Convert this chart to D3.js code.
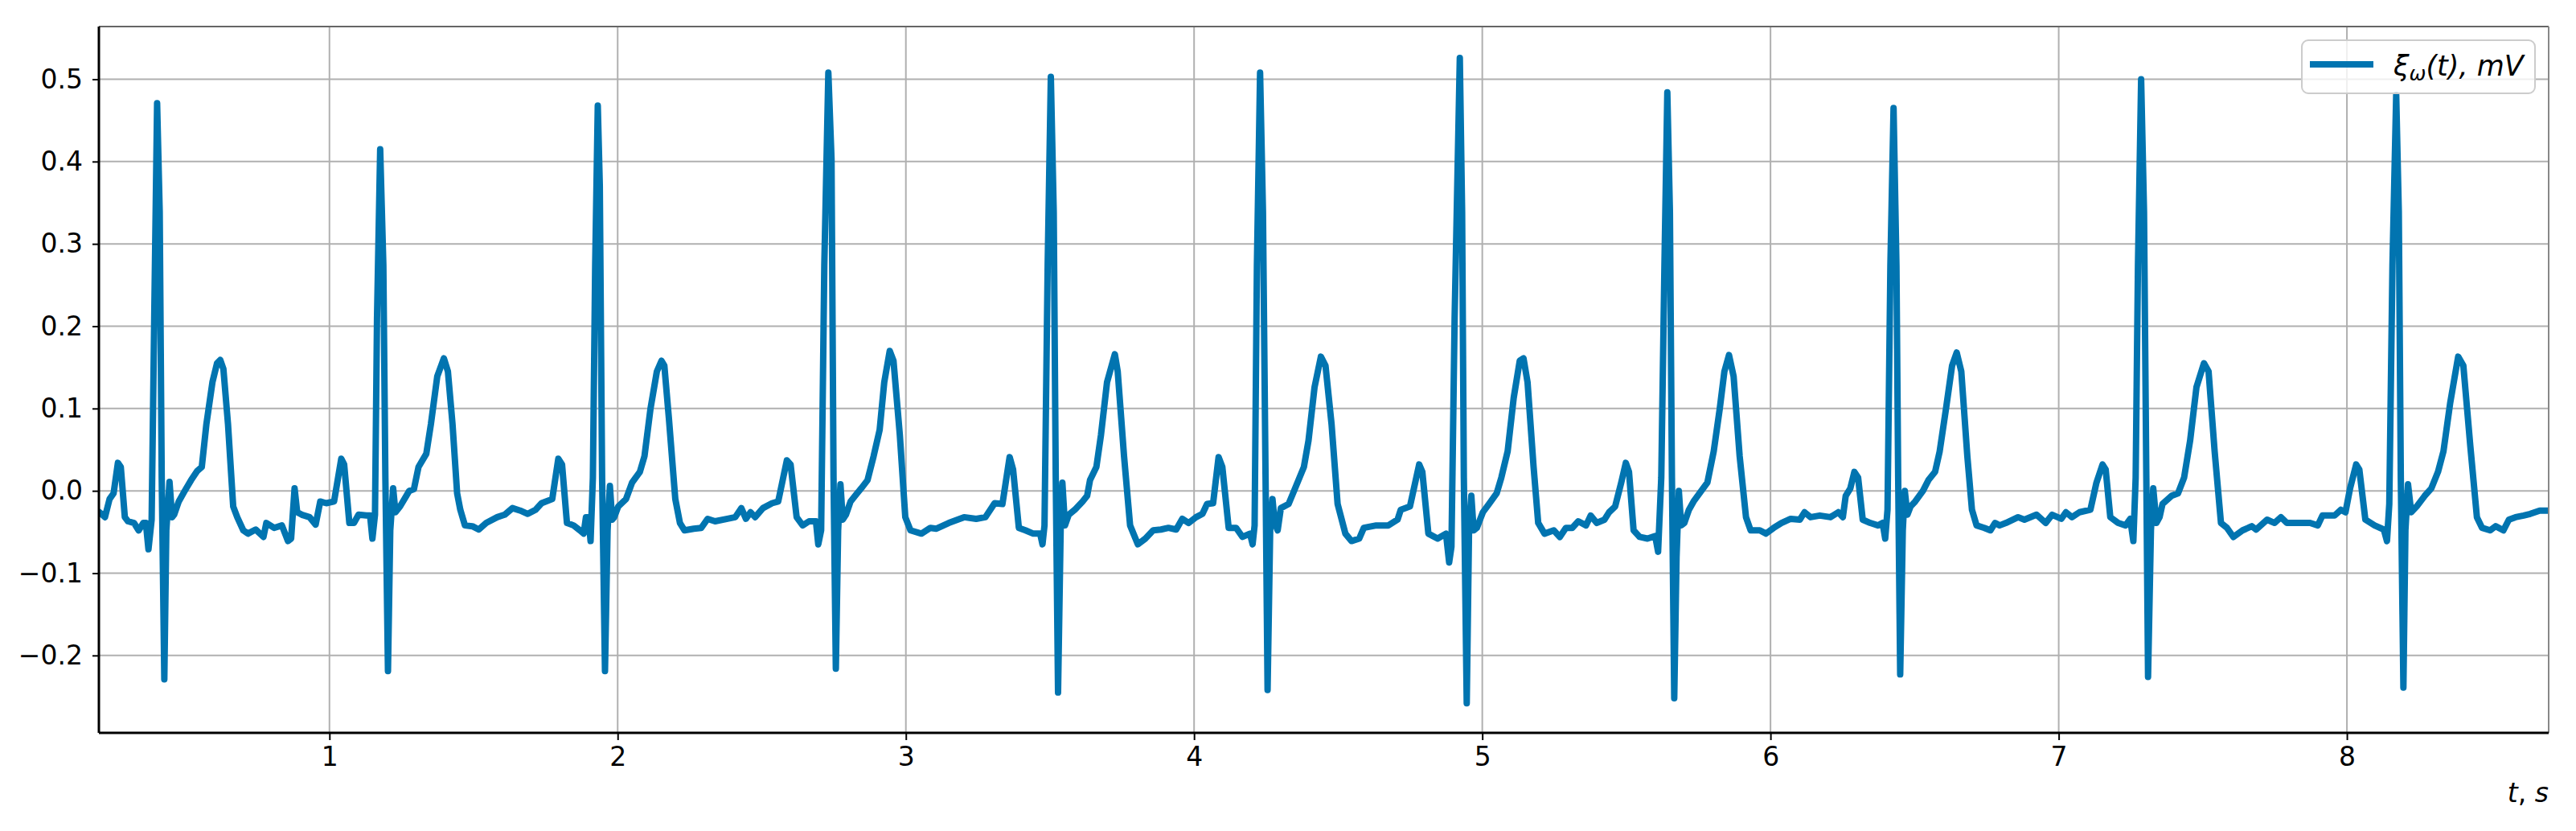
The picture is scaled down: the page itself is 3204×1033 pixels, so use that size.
<!DOCTYPE html>
<html>
<head>
<meta charset="utf-8">
<script src="https://cdn.jsdelivr.net/npm/d3@7"></script>
<style>
  html, body { margin: 0; padding: 0; background: #ffffff; }
  svg { display: block; }
  text { font-family: "DejaVu Sans", sans-serif; }
</style>
</head>
<body>
<svg id="chart" width="3204" height="1033"></svg>
<script>
// ---- data ----
const seriesName = "ξω(t), mV";
const xAxisLabel = "t, s";
const xTickValues = [1, 2, 3, 4, 5, 6, 7, 8];
const yTickValues = [-0.2, -0.1, 0.0, 0.1, 0.2, 0.3, 0.4, 0.5];
const xDomain = [0.2, 8.7];
const yDomain = [-0.294, 0.564];

// time in seconds
const timeS = [
  0.202,0.221,0.237,0.251,0.266,0.276,0.290,0.301,0.322,0.338,0.354,0.363,0.372,0.383,0.392,0.402,0.411,0.418,0.427,0.434,
  0.445,0.454,0.461,0.477,0.498,0.520,0.541,0.557,0.573,0.594,0.610,0.621,0.632,0.648,0.666,0.680,0.701,0.717,0.744,0.771,
  0.781,0.808,0.835,0.856,0.867,0.879,0.888,0.904,0.931,0.952,0.968,0.989,1.016,1.041,1.051,1.069,1.085,1.101,1.128,1.141,
  1.149,1.158,1.165,1.176,1.187,1.194,1.203,1.211,1.221,1.229,1.245,1.277,1.293,1.309,1.336,1.352,1.374,1.397,1.411,1.427,
  1.443,1.454,1.470,1.496,1.518,1.544,1.582,1.608,1.635,1.662,1.688,1.715,1.736,
  1.773,1.794,1.807,1.824,1.847,1.869,1.882,1.890,1.899,1.906,1.914,1.922,1.931,1.938,1.946,1.956,1.965,1.973,1.981,1.988,
  2.002,2.029,2.050,2.077,2.093,2.114,2.136,2.152,2.162,2.178,2.200,2.216,2.232,2.264,2.290,2.312,2.338,2.381,2.408,2.429,
  2.445,2.461,2.477,2.504,2.536,2.557,2.587,2.600,2.621,2.642,2.664,2.688,2.696,2.706,2.717,2.731,2.742,2.749,2.757,2.765,
  2.773,2.781,2.792,2.808,2.824,2.845,2.867,2.888,2.909,2.925,2.944,2.957,2.979,2.998,3.016,3.054,3.085,3.106,3.149,
  3.202,3.244,3.276,3.308,3.335,3.360,3.372,3.392,3.415,3.442,3.466,3.474,3.481,3.492,3.503,3.513,3.520,3.528,3.537,3.543,
  3.552,3.565,3.586,3.613,3.629,3.639,3.661,3.677,3.698,3.725,3.735,3.757,3.778,3.805,3.831,3.858,3.885,3.911,3.938,3.959,
  3.981,4.007,4.029,4.045,4.066,4.085,4.098,4.120,4.146,4.168,4.194,4.203,4.210,4.218,4.229,4.239,4.248,4.255,4.264,4.272,
  4.280,4.290,4.301,4.328,4.354,4.381,4.397,4.418,4.440,4.456,4.477,4.498,4.525,4.546,4.573,4.589,4.632,4.674,4.706,4.717,
  4.749,4.781,4.792,4.813,4.845,
  4.874,4.885,4.893,4.904,4.922,4.930,4.936,4.946,4.954,4.962,4.970,4.981,5.002,5.023,5.050,5.066,5.088,5.109,5.130,5.143,
  5.157,5.178,5.194,5.216,5.248,5.269,5.290,5.312,5.333,5.360,5.376,5.397,5.424,5.440,5.461,5.482,5.498,5.509,5.525,5.546,
  5.573,5.600,5.610,5.621,5.632,5.642,5.651,5.658,5.666,5.674,5.682,5.690,5.701,5.717,5.733,5.760,5.781,5.803,5.824,5.840,
  5.856,5.872,5.893,5.915,5.931,5.963,5.984,6.011,6.038,6.070,6.102,6.118,6.139,6.171,6.208,6.235,6.251,6.261,6.277,6.291,
  6.304,6.320,6.346,6.373,6.389,6.398,6.406,6.416,6.427,6.437,6.443,6.450,6.459,6.466,6.475,6.486,6.502,6.529,6.548,
  6.571,6.587,6.609,6.630,6.646,6.662,6.683,6.699,6.715,6.742,6.763,6.779,6.795,6.817,6.859,6.881,6.923,6.955,6.977,7.009,
  7.025,7.046,7.072,7.110,7.131,7.152,7.163,7.179,7.206,7.232,7.248,7.259,7.267,7.275,7.286,7.296,7.304,7.310,7.320,7.328,
  7.339,7.350,7.360,7.392,7.414,7.435,7.456,7.478,7.504,7.520,7.541,7.563,7.584,7.606,7.638,7.670,7.685,7.723,7.749,7.771,
  7.792,7.829,7.872,7.899,7.915,7.957,7.979,7.995,8.011,8.032,8.043,8.064,8.096,8.128,8.139,8.147,8.158,8.171,8.180,8.187,
  8.196,8.203,8.212,8.223,8.242,8.270,8.293,8.316,8.335,8.358,8.386,8.404,8.428,8.451,8.469,8.497,8.516,8.543,8.562,8.585,
  8.613,8.636,8.669,8.697
];

// voltage in mV
const voltageMV = [
  -0.026,-0.032,-0.010,-0.003,0.034,0.029,-0.032,-0.037,-0.039,-0.048,-0.039,-0.039,-0.071,-0.035,0.210,0.471,0.339,0.016,-0.229,-0.048,
  0.011,-0.032,-0.029,-0.013,0.000,0.013,0.024,0.029,0.081,0.132,0.155,0.159,0.148,0.081,-0.019,-0.032,-0.048,-0.052,-0.047,-0.056,
  -0.039,-0.045,-0.042,-0.061,-0.058,0.003,-0.026,-0.029,-0.032,-0.041,-0.013,-0.015,-0.013,0.039,0.032,-0.039,-0.039,-0.029,-0.030,-0.030,
  -0.058,-0.029,0.210,0.415,0.274,0.016,-0.219,-0.048,0.003,-0.026,-0.019,0.000,0.002,0.029,0.045,0.081,0.139,0.161,0.145,0.081,
  -0.003,-0.023,-0.042,-0.043,-0.047,-0.039,-0.032,-0.029,-0.021,-0.024,-0.028,-0.023,-0.015,
  -0.010,0.039,0.032,-0.039,-0.042,-0.048,-0.052,-0.032,-0.032,-0.061,0.016,0.274,0.468,0.371,0.016,-0.219,-0.048,0.006,-0.035,-0.032,
  -0.019,-0.010,0.010,0.023,0.042,0.100,0.145,0.158,0.152,0.087,-0.010,-0.039,-0.048,-0.046,-0.045,-0.034,-0.037,-0.034,-0.032,-0.021,
  -0.034,-0.026,-0.032,-0.021,-0.015,-0.013,0.037,0.032,-0.032,-0.042,-0.037,-0.037,-0.065,-0.048,0.274,0.508,0.403,0.016,-0.216,-0.048,
  0.008,-0.035,-0.029,-0.013,-0.006,0.003,0.013,0.042,0.074,0.132,0.170,0.158,0.068,-0.032,-0.048,-0.052,-0.045,-0.046,-0.039,
  -0.032,-0.034,-0.032,-0.015,-0.016,0.041,0.026,-0.045,-0.048,-0.052,-0.052,-0.065,-0.042,0.274,0.503,0.339,0.016,-0.245,-0.048,0.010,
  -0.042,-0.029,-0.023,-0.013,-0.006,0.013,0.029,0.068,0.132,0.166,0.145,0.042,-0.042,-0.065,-0.058,-0.048,-0.047,-0.045,-0.047,-0.034,
  -0.039,-0.032,-0.028,-0.016,-0.015,0.041,0.029,-0.045,-0.045,-0.056,-0.052,-0.065,-0.042,0.274,0.508,0.339,0.016,-0.242,-0.048,-0.010,
  -0.039,-0.048,-0.021,-0.016,0.006,0.029,0.061,0.126,0.163,0.152,0.081,-0.016,-0.052,-0.061,-0.058,-0.045,-0.042,-0.042,-0.035,-0.023,
  -0.019,0.032,0.023,-0.052,-0.058,
  -0.052,-0.087,-0.068,0.210,0.526,0.339,0.016,-0.258,-0.048,-0.006,-0.048,-0.045,-0.026,-0.016,-0.003,0.016,0.048,0.113,0.158,0.161,
  0.132,0.029,-0.039,-0.052,-0.048,-0.056,-0.045,-0.045,-0.037,-0.042,-0.030,-0.039,-0.035,-0.026,-0.019,0.010,0.034,0.023,-0.048,-0.056,
  -0.058,-0.055,-0.074,0.016,0.274,0.484,0.339,0.016,-0.252,-0.081,0.000,-0.042,-0.039,-0.023,-0.013,0.000,0.010,0.048,0.100,0.145,
  0.165,0.139,0.042,-0.032,-0.048,-0.048,-0.052,-0.045,-0.039,-0.034,-0.035,-0.026,-0.032,-0.030,-0.032,-0.026,-0.032,-0.006,0.003,0.023,
  0.016,-0.035,-0.039,-0.042,-0.039,-0.058,-0.023,0.274,0.465,0.274,0.016,-0.223,-0.048,0.000,-0.029,-0.019,-0.013,0.000,0.013,
  0.023,0.048,0.100,0.152,0.168,0.145,0.042,-0.023,-0.042,-0.045,-0.048,-0.039,-0.042,-0.039,-0.032,-0.035,-0.029,-0.039,-0.029,-0.034,
  -0.026,-0.032,-0.026,-0.023,0.010,0.032,0.026,-0.032,-0.039,-0.042,-0.034,-0.061,0.016,0.274,0.500,0.339,0.016,-0.226,-0.048,0.003,
  -0.039,-0.032,-0.016,-0.006,-0.003,0.016,0.061,0.126,0.155,0.145,0.048,-0.039,-0.045,-0.056,-0.048,-0.043,-0.047,-0.035,-0.039,-0.032,
  -0.039,-0.039,-0.039,-0.042,-0.030,-0.030,-0.023,-0.026,0.003,0.032,0.026,-0.035,-0.042,-0.047,-0.061,-0.016,0.274,0.481,0.339,0.016,
  -0.239,-0.048,0.008,-0.026,-0.019,-0.006,0.003,0.023,0.048,0.106,0.163,0.152,0.055,-0.032,-0.045,-0.048,-0.043,-0.048,-0.035,-0.032,
  -0.030,-0.028,-0.024,-0.024
];

// ---- layout ----
const W = 3204, H = 1033;
const plot = { left: 123, top: 33, right: 3170, bottom: 911 };
const lineColor = "#0174b0";
const fontSize = 33;

const svg = d3.select("#chart");
const x = d3.scaleLinear().domain(xDomain).range([plot.left, plot.right]);
const y = d3.scaleLinear().domain(yDomain).range([plot.bottom, plot.top]);

svg.append("rect").attr("x", 0).attr("y", 0).attr("width", W).attr("height", H).attr("fill", "#fff");

svg.append("defs").append("clipPath").attr("id", "clip")
  .append("rect").attr("x", plot.left).attr("y", plot.top)
  .attr("width", plot.right - plot.left).attr("height", plot.bottom - plot.top);

// grid
const grid = svg.append("g").attr("class", "grid");
grid.selectAll("line.gx").data(xTickValues).join("line")
  .attr("x1", d => x(d)).attr("x2", d => x(d))
  .attr("y1", plot.top).attr("y2", plot.bottom)
  .attr("stroke", "#b0b0b0").attr("stroke-width", 2);
grid.selectAll("line.gy").data(yTickValues).join("line")
  .attr("y1", d => y(d)).attr("y2", d => y(d))
  .attr("x1", plot.left).attr("x2", plot.right)
  .attr("stroke", "#b0b0b0").attr("stroke-width", 2);

// signal
const points = timeS.map((t, i) => [t, voltageMV[i]]);
const line = d3.line().x(d => x(d[0])).y(d => y(d[1]));
svg.append("path")
  .datum(points)
  .attr("clip-path", "url(#clip)")
  .attr("d", line)
  .attr("fill", "none")
  .attr("stroke", lineColor)
  .attr("stroke-width", 8)
  .attr("stroke-linejoin", "round")
  .attr("stroke-linecap", "round");

// spines
svg.append("line").attr("x1", plot.left).attr("x2", plot.right).attr("y1", plot.top).attr("y2", plot.top)
  .attr("stroke", "#666").attr("stroke-width", 2);
svg.append("line").attr("x1", plot.right).attr("x2", plot.right).attr("y1", plot.top).attr("y2", plot.bottom)
  .attr("stroke", "#888").attr("stroke-width", 2);
svg.append("line").attr("x1", plot.left).attr("x2", plot.left).attr("y1", plot.top).attr("y2", plot.bottom)
  .attr("stroke", "#000").attr("stroke-width", 3);
svg.append("line").attr("x1", plot.left).attr("x2", plot.right).attr("y1", plot.bottom).attr("y2", plot.bottom)
  .attr("stroke", "#000").attr("stroke-width", 3);

// axes
const xAxis = d3.axisBottom(x).tickValues(xTickValues).tickSize(9).tickPadding(9).tickFormat(d3.format("d"));
const gx = svg.append("g").attr("transform", `translate(0,${plot.bottom})`).call(xAxis);
gx.select(".domain").remove();
gx.selectAll(".tick line").attr("stroke", "#000").attr("stroke-width", 2);
gx.selectAll(".tick text").attr("font-size", fontSize).attr("fill", "#000").attr("font-family", "DejaVu Sans");

const yAxis = d3.axisLeft(y).tickValues(yTickValues).tickSize(8).tickPadding(12).tickFormat(d3.format(".1f"));
const gy = svg.append("g").attr("transform", `translate(${plot.left},0)`).call(yAxis);
gy.select(".domain").remove();
gy.selectAll(".tick line").attr("stroke", "#000").attr("stroke-width", 2);
gy.selectAll(".tick text").attr("font-size", fontSize).attr("fill", "#000").attr("font-family", "DejaVu Sans");

// x label (mathtext style): t, s
const xl = svg.append("text")
  .attr("x", plot.right).attr("y", 997)
  .attr("text-anchor", "end")
  .attr("font-size", fontSize)
  .attr("fill", "#000");
xl.append("tspan").attr("font-style", "italic").text(xAxisLabel.charAt(0));
xl.append("tspan").text(", ");
xl.append("tspan").attr("font-style", "italic").text(xAxisLabel.charAt(3));

// legend
const lg = svg.append("g");
lg.append("rect")
  .attr("x", 2863).attr("y", 50).attr("width", 290).attr("height", 66).attr("rx", 8)
  .attr("fill", "#fff").attr("fill-opacity", 0.8)
  .attr("stroke", "#cccccc").attr("stroke-width", 2);
lg.append("line")
  .attr("x1", 2873).attr("x2", 2952).attr("y1", 80).attr("y2", 80)
  .attr("stroke", lineColor).attr("stroke-width", 8);
const lt = lg.append("text")
  .attr("x", 2977).attr("y", 94)
  .attr("font-size", 35).attr("fill", "#000").attr("font-style", "italic");
lt.append("tspan").text(seriesName.charAt(0));
lt.append("tspan").attr("font-size", 25).attr("dy", 6).text(seriesName.charAt(1));
lt.append("tspan").attr("dy", -6).text("(t), ");
lt.append("tspan").text("mV");
</script>
</body>
</html>
